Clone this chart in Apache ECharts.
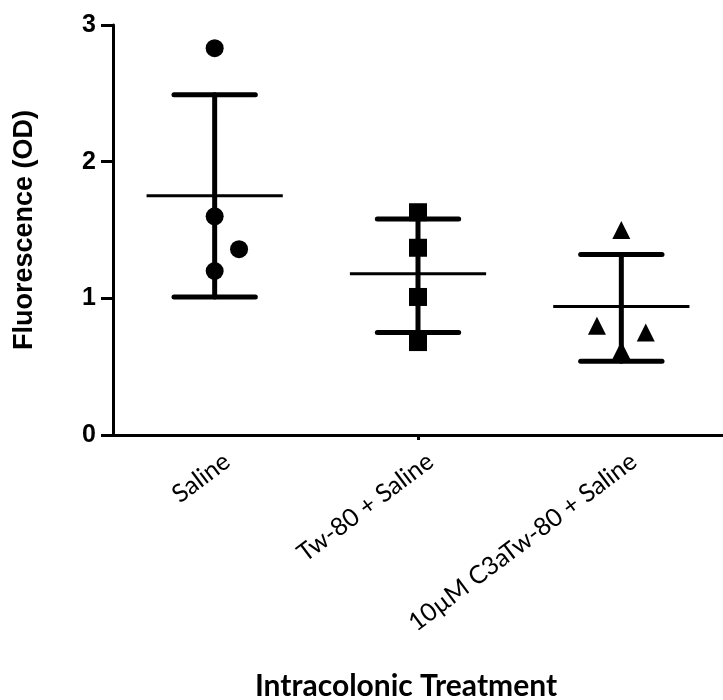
<!DOCTYPE html>
<html>
<head>
<meta charset="utf-8">
<script src="https://cdn.jsdelivr.net/npm/echarts@6/dist/echarts.min.js"></script>
<style>
  html, body { margin: 0; padding: 0; background: #fff; }
  #chart-main { width: 723px; height: 700px; }
</style>
</head>
<body>
<div id="chart-main"></div>
<script>
// Group names
const categories = ['Saline', 'Tw-80 + Saline', '10\u00b5M C3aTw-80 + Saline'];

// Individual values per group (OD)
const salineValues = [2.83, 1.60, 1.36, 1.20];
const tw80Values = [1.63, 1.37, 1.01, 0.68];
const c3aValues = [1.50, 0.80, 0.75, 0.62];

// Horizontal jitter of points, in category units
const salineJitter = [0, 0, 0.12, 0];
const tw80Jitter = [0, 0, 0, 0];
const c3aJitter = [0, -0.12, 0.12, 0];

// Mean and mean +/- SD
const means = [1.75, 1.18, 0.94];
const upperSD = [2.49, 1.58, 1.32];
const lowerSD = [1.01, 0.75, 0.54];

const yTicks = [0, 1, 2, 3];

const chart = echarts.init(document.getElementById('chart-main'));

function pointsFor(groupIndex, values, jitter) {
    return values.map((v, i) => [groupIndex + jitter[i], v]);
}

const summaryData = means.map((m, i) => [i, m, lowerSD[i], upperSD[i]]);

const option = {
    backgroundColor: '#fff',
    animation: false,
    grid: { left: 113, right: 0, top: 25, bottom: 265, containLabel: false, outerBoundsMode: 'none' },
    xAxis: [
        {
            type: 'category',
            data: categories,
            boundaryGap: true,
            name: 'Intracolonic Treatment',
            nameLocation: 'middle',
            nameGap: 236,
            nameTextStyle: {
                fontFamily: 'Lato', fontWeight: 'bold', fontSize: 30, color: '#000',
                padding: [0, 24, 0, 0]
            },
            axisLine: { onZero: false, lineStyle: { color: '#000', width: 3 } },
            axisTick: {
                show: true,
                alignWithLabel: true,
                interval: (index) => index === 1,
                length: 5,
                lineStyle: { color: '#000', width: 3 }
            },
            axisLabel: {
                rotate: 37,
                margin: 7,
                align: 'right',
                verticalAlign: 'top',
                padding: [8, 0, 0, 0],
                fontFamily: 'Lato',
                fontSize: 25,
                color: '#000',
                interval: 0
            }
        },
        {
            type: 'value',
            min: -0.5,
            max: 2.5,
            show: false
        }
    ],
    yAxis: {
        type: 'value',
        min: 0,
        max: 3,
        interval: 1,
        name: 'Fluorescence (OD)',
        nameLocation: 'middle',
        nameGap: 75,
        nameTextStyle: { fontFamily: 'Liberation Sans', fontWeight: 'bold', fontSize: 27, color: '#000' },
        axisLine: { show: true, onZero: false, lineStyle: { color: '#000', width: 3 } },
        axisTick: { show: true, length: 12, lineStyle: { color: '#000', width: 3 } },
        axisLabel: {
            margin: 17,
            fontFamily: 'Liberation Sans',
            fontWeight: 'bold',
            fontSize: 25,
            color: '#000',
            formatter: (v) => yTicks.includes(v) ? String(v) : ''
        },
        splitLine: { show: false }
    },
    series: [
        {
            name: 'Mean \u00b1 SD',
            type: 'custom',
            xAxisIndex: 1,
            z: 2,
            data: summaryData,
            renderItem: function (params, api) {
                const x = api.value(0);
                const band = api.size([1, 0])[0];
                const mid = api.coord([x, api.value(1)]);
                const lo = api.coord([x, api.value(2)]);
                const hi = api.coord([x, api.value(3)]);
                const meanHalf = band * 0.335;
                const capHalf = band * 0.2;
                const thick = { stroke: '#000', lineWidth: 5, lineCap: 'round' };
                return {
                    type: 'group',
                    children: [
                        { type: 'line', shape: { x1: hi[0], y1: hi[1], x2: lo[0], y2: lo[1] }, style: thick },
                        { type: 'line', shape: { x1: hi[0] - capHalf, y1: hi[1], x2: hi[0] + capHalf, y2: hi[1] }, style: thick },
                        { type: 'line', shape: { x1: lo[0] - capHalf, y1: lo[1], x2: lo[0] + capHalf, y2: lo[1] }, style: thick },
                        { type: 'line', shape: { x1: mid[0] - meanHalf, y1: mid[1], x2: mid[0] + meanHalf, y2: mid[1] }, style: { stroke: '#000', lineWidth: 3 } }
                    ]
                };
            }
        },
        {
            name: categories[0],
            type: 'scatter',
            xAxisIndex: 1,
            z: 5,
            symbol: 'circle',
            symbolSize: 18,
            itemStyle: { color: '#000', opacity: 1 },
            data: pointsFor(0, salineValues, salineJitter)
        },
        {
            name: categories[1],
            type: 'scatter',
            xAxisIndex: 1,
            z: 5,
            symbol: 'rect',
            symbolSize: 18,
            itemStyle: { color: '#000', opacity: 1 },
            data: pointsFor(1, tw80Values, tw80Jitter)
        },
        {
            name: categories[2],
            type: 'scatter',
            xAxisIndex: 1,
            z: 5,
            symbol: 'triangle',
            symbolSize: 18,
            itemStyle: { color: '#000', opacity: 1 },
            data: pointsFor(2, c3aValues, c3aJitter)
        }
    ]
};

chart.setOption(option);
</script>
</body>
</html>
